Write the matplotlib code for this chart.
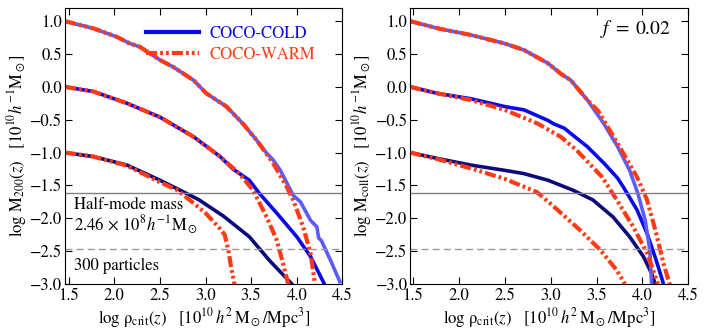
import matplotlib
matplotlib.use('Agg')
import matplotlib.pyplot as plt
from matplotlib.lines import Line2D

plt.rcParams['font.family'] = 'STIXGeneral'
plt.rcParams['mathtext.fontset'] = 'stix'
plt.rcParams['font.size'] = 12
plt.rcParams['lines.scale_dashes'] = False

# ---- data: left panel, log M200(z) vs log rho_crit(z) ----
m200_cold_lo_x = [1.46, 1.77, 2.14, 2.5, 2.79, 2.93, 3.2, 3.48, 3.7, 3.94, 3.98]
m200_cold_lo_y = [-1.0, -1.06, -1.19, -1.42, -1.62, -1.72, -1.97, -2.28, -2.64, -2.99, -3.06]
m200_warm_lo_x = [1.46, 1.77, 2.14, 2.5, 2.69, 2.87, 3.0, 3.16, 3.21, 3.25, 3.28, 3.32]
m200_warm_lo_y = [-1.0, -1.06, -1.2, -1.45, -1.57, -1.77, -1.92, -2.16, -2.25, -2.48, -2.74, -3.02]

m200_cold_mid_x = [1.46, 1.77, 2.14, 2.5, 2.87, 3.16, 3.3, 3.48, 3.59, 3.78, 4.0, 4.15, 4.31]
m200_cold_mid_y = [0.0, -0.07, -0.25, -0.46, -0.76, -1.06, -1.25, -1.42, -1.62, -1.92, -2.28, -2.58, -3.02]
m200_warm_mid_x = [1.46, 1.77, 2.14, 2.5, 2.87, 3.16, 3.37, 3.52, 3.67, 3.78, 3.85, 3.91]
m200_warm_mid_y = [0.0, -0.07, -0.25, -0.46, -0.76, -1.06, -1.32, -1.57, -1.98, -2.33, -2.69, -3.02]

m200_cold_hi_x = [1.46, 1.77, 2.03, 2.17, 2.28, 2.5, 2.65, 2.87, 3.01, 3.23, 3.41, 3.56, 3.67,
                  3.74, 3.82, 3.96, 4.04, 4.08, 4.15, 4.22, 4.24, 4.27, 4.37, 4.48]
m200_cold_hi_y = [1.0, 0.89, 0.76, 0.66, 0.61, 0.41, 0.3, 0.1, -0.1, -0.3, -0.56, -0.81, -1.01,
                  -1.11, -1.27, -1.65, -1.75, -1.85, -2.03, -2.13, -2.3, -2.34, -2.64, -2.99]
m200_warm_hi_x = [1.46, 1.77, 2.03, 2.17, 2.28, 2.5, 2.65, 2.87, 3.01, 3.23, 3.41, 3.56,
                  3.74, 3.89, 3.96, 4.07, 4.15, 4.2]
m200_warm_hi_y = [1.0, 0.89, 0.76, 0.66, 0.61, 0.41, 0.3, 0.1, -0.1, -0.3, -0.56, -0.81,
                  -1.16, -1.52, -1.72, -2.13, -2.53, -3.0]

# ---- data: right panel, log Mcoll(z), f = 0.02 ----
mcoll_cold_lo_x = [1.47, 1.77, 2.13, 2.5, 2.71, 2.97, 3.06, 3.24, 3.46, 3.68, 3.86, 4.01, 4.1, 4.14]
mcoll_cold_lo_y = [-1.0, -1.09, -1.19, -1.27, -1.32, -1.42, -1.47, -1.57, -1.72, -1.98, -2.28, -2.58, -2.84, -3.0]
mcoll_warm_lo_x = [1.47, 1.77, 2.13, 2.5, 2.85, 3.05, 3.32, 3.54, 3.72, 3.81]
mcoll_warm_lo_y = [-1.0, -1.1, -1.24, -1.4, -1.6, -1.84, -2.18, -2.48, -2.79, -3.0]

mcoll_cold_mid_x = [1.47, 1.77, 2.13, 2.5, 2.71, 2.97, 3.03, 3.15, 3.22, 3.4, 3.58, 3.73, 3.79,
                    3.94, 4.05, 4.15, 4.23]
mcoll_cold_mid_y = [0.0, -0.1, -0.18, -0.3, -0.35, -0.51, -0.56, -0.63, -0.71, -0.91, -1.16, -1.39,
                    -1.52, -1.87, -2.23, -2.64, -3.0]
mcoll_warm_mid_x = [1.47, 1.77, 2.13, 2.5, 2.86, 3.11, 3.28, 3.56, 3.72, 3.9, 4.05, 4.17]
mcoll_warm_mid_y = [0.0, -0.1, -0.2, -0.35, -0.56, -0.76, -0.96, -1.37, -1.72, -2.13, -2.53, -3.0]

mcoll_cold_hi_x = [1.47, 1.77, 2.13, 2.5, 2.71, 2.97, 3.11, 3.22, 3.4, 3.58, 3.73, 3.86, 3.95,
                   4.03, 4.08, 4.1]
mcoll_cold_hi_y = [1.0, 0.89, 0.79, 0.66, 0.56, 0.36, 0.2, 0.1, -0.2, -0.56, -0.91, -1.27, -1.62,
                   -2.03, -2.48, -3.0]
mcoll_warm_hi_x = [1.47, 1.77, 2.13, 2.5, 2.71, 2.97, 3.11, 3.22, 3.4, 3.52, 3.75, 3.94, 4.05,
                   4.15, 4.23, 4.3]
mcoll_warm_hi_y = [1.0, 0.89, 0.79, 0.66, 0.56, 0.36, 0.2, 0.1, -0.2, -0.37, -0.91, -1.37, -1.72,
                   -2.23, -2.69, -3.02]

half_mode = -1.609   # log(2.46e8 / 1e10)
part_300 = -2.47

# styles
c_navy = '#0b0b7c'
c_blue = '#0a0ae8'
c_light = '#5a5cff'
c_red = '#ff3a14'
warm_dash = (8, 2.2, 2, 2.2, 2, 2.2)

fig = plt.figure(figsize=(7.06, 3.33), dpi=100)
ax1 = fig.add_axes([0.092, 0.147, 0.393, 0.829])
ax2 = fig.add_axes([0.581, 0.147, 0.394, 0.829])

xlab = r'log ρ$_{\rm crit}(z)$   [10$^{10}\,h^2\,\mathrm{M}_\odot/\mathrm{Mpc}^3$]'


def draw(ax, cold, warm):
    for (x, y), c in zip(cold, [c_navy, c_blue, c_light]):
        ax.plot(x, y, color=c, lw=2.6, solid_capstyle='butt')
    for x, y in warm:
        ax.plot(x, y, color=c_red, lw=3.0, dashes=warm_dash)
    ax.axhline(half_mode, color='#808080', lw=1.0)
    ax.axhline(part_300, color='#999999', lw=1.0, dashes=(5, 3))
    ax.set_xlim(1.46, 4.5)
    ax.set_ylim(-3.0, 1.2)
    ax.set_xticks([1.5, 2.0, 2.5, 3.0, 3.5, 4.0, 4.5])
    ax.set_yticks([1.0, 0.5, 0.0, -0.5, -1.0, -1.5, -2.0, -2.5, -3.0])
    ax.tick_params(direction='in', top=True, right=True, length=5, width=0.8, labelsize=12, pad=2)
    ax.tick_params(axis='x', pad=3)
    ax.set_xlabel(xlab, fontsize=12, labelpad=1)


draw(ax1,
     [(m200_cold_lo_x, m200_cold_lo_y), (m200_cold_mid_x, m200_cold_mid_y), (m200_cold_hi_x, m200_cold_hi_y)],
     [(m200_warm_lo_x, m200_warm_lo_y), (m200_warm_mid_x, m200_warm_mid_y), (m200_warm_hi_x, m200_warm_hi_y)])
draw(ax2,
     [(mcoll_cold_lo_x, mcoll_cold_lo_y), (mcoll_cold_mid_x, mcoll_cold_mid_y), (mcoll_cold_hi_x, mcoll_cold_hi_y)],
     [(mcoll_warm_lo_x, mcoll_warm_lo_y), (mcoll_warm_mid_x, mcoll_warm_mid_y), (mcoll_warm_hi_x, mcoll_warm_hi_y)])
ax2.set_xlim(1.47, 4.5)

ax1.set_ylabel(r'log M$_{200}(z)$   [10$^{10}h^{-1}\mathrm{M}_\odot$]', fontsize=12, labelpad=1)
ax2.set_ylabel(r'log M$_{\rm coll}(z)$   [10$^{10}h^{-1}\mathrm{M}_\odot$]', fontsize=12, labelpad=1)

ax1.text(1.56, -1.80, 'Half-mode mass', fontsize=12, va='center')
ax1.text(1.56, -2.09, r'2.46$\,\times\,10^8h^{-1}\mathrm{M}_\odot$', fontsize=12, va='center')
ax1.text(1.56, -2.72, '300 particles', fontsize=12, va='center')

handles = [Line2D([], [], color=c_blue, lw=3.0),
           Line2D([], [], color=c_red, lw=3.0, dashes=warm_dash)]
leg = ax1.legend(handles, ['COCO-COLD', 'COCO-WARM'], loc='upper right', frameon=False,
                 handlelength=3.2, handletextpad=0.6, labelspacing=0.3,
                 bbox_to_anchor=(0.955, 0.99), fontsize=12)
for t, c in zip(leg.get_texts(), [c_blue, c_red]):
    t.set_color(c)

ax2.text(0.935, 0.925, r'$f\;=\;0.02$', transform=ax2.transAxes, ha='right', va='center', fontsize=14)

fig.savefig('out.png', dpi=100)
